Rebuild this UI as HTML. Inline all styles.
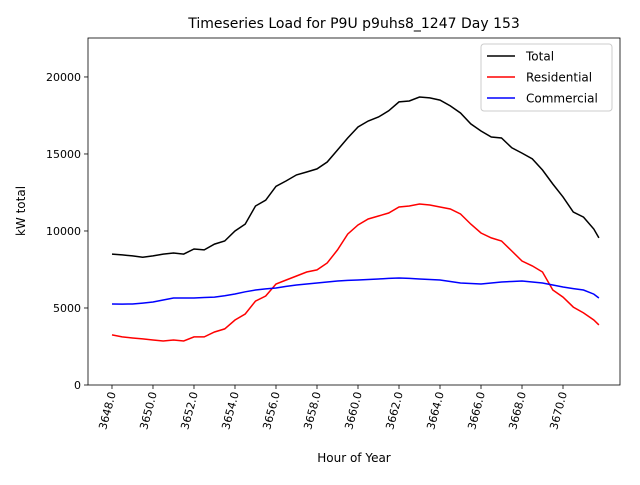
<!DOCTYPE html>
<html><head><meta charset="utf-8"><style>
body{margin:0;background:#fff;}
svg text{font-family:"DejaVu Sans","Liberation Sans",sans-serif;}
</style></head><body>
<svg id="chart" width="640" height="480" xmlns="http://www.w3.org/2000/svg"></svg>
<script>
const hours=[3648,3648.5,3649,3649.5,3650,3650.5,3651,3651.5,3652,3652.5,3653,3653.5,3654,3654.5,3655,3655.5,3656,3656.5,3657,3657.5,3658,3658.5,3659,3659.5,3660,3660.5,3661,3661.5,3662,3662.5,3663,3663.5,3664,3664.5,3665,3665.5,3666,3666.5,3667,3667.5,3668,3668.5,3669,3669.5,3670,3670.5,3671,3671.5,3671.75];
const totalLoad=[8500,8450,8380,8300,8380,8500,8570,8500,8830,8770,9150,9350,10000,10450,11620,12000,12900,13250,13640,13830,14030,14480,15260,16040,16750,17140,17400,17800,18380,18440,18700,18640,18500,18120,17660,16950,16490,16100,16040,15400,15060,14680,13960,13050,12210,11230,10900,10130,9550];
const residentialLoad=[3250,3120,3050,2990,2920,2860,2920,2860,3120,3120,3440,3640,4220,4610,5450,5780,6560,6820,7080,7340,7470,7920,8770,9800,10390,10780,10970,11170,11560,11620,11750,11690,11560,11430,11100,10450,9870,9550,9350,8700,8050,7730,7340,6170,5710,5060,4680,4220,3900];
const commercialLoad=[5260,5250,5260,5320,5390,5520,5650,5650,5650,5680,5710,5800,5910,6050,6170,6240,6300,6400,6490,6560,6620,6690,6750,6790,6820,6850,6880,6920,6950,6920,6880,6850,6820,6720,6620,6590,6560,6620,6690,6720,6750,6690,6620,6490,6360,6260,6170,5900,5650];
const xTicks=[3648,3650,3652,3654,3656,3658,3660,3662,3664,3666,3668,3670];
const yTicks=[0,5000,10000,15000,20000];
const L=88,R=620,T=38,B=385,XMIN=3646.83,XMAX=3672.78,YMAX=22530;
const sx=v=>L+(v-XMIN)/(XMAX-XMIN)*(R-L);
const sy=v=>B-v/YMAX*(B-T);
const svg=document.getElementById('chart');
function add(tag,attrs,text){const e=document.createElementNS('http://www.w3.org/2000/svg',tag);for(const k in attrs)e.setAttribute(k,attrs[k]);if(text!==undefined)e.textContent=text;svg.appendChild(e);return e;}
let t=add('text',{x:354,y:28,'text-anchor':'middle','font-size':14},'Timeseries Load for P9U p9uhs8_1247  Day 153');


xTicks.forEach(v=>{const x=sx(v);
 let l=add('line',{x1:x,x2:x,y1:B,y2:B+4,stroke:'#000','stroke-width':0.8});
 
 
 let tx=add('text',{x:0,y:0,'font-size':11,'text-anchor':'end',transform:`translate(${x+4},${B+8}) rotate(-75)`},v.toFixed(1));
 
 
});
yTicks.forEach(v=>{const y=sy(v);
 let l=add('line',{x1:L-4,x2:L,y1:y,y2:y,stroke:'#000','stroke-width':0.8});
 
 
 let tx=add('text',{x:L-7,y:y+4,'font-size':11,'text-anchor':'end'},String(v));
 
 
});
function series(vals,color,name){
 const d=vals.map((v,i)=>(i?'L':'M')+sx(hours[i]).toFixed(1)+','+sy(v).toFixed(1)).join(' ');
 let p=add('path',{d:d,fill:'none',stroke:color,'stroke-width':1.5});
 
 
}
series(totalLoad,'#000','total-line');
series(residentialLoad,'#ff0000','residential-line');
series(commercialLoad,'#0000ff','commercial-line');
let f=add('rect',{x:L,y:T,width:R-L,height:B-T,fill:'none',stroke:'#000','stroke-width':0.8});


let xt=add('text',{x:354,y:462,'text-anchor':'middle','font-size':12},'Hour of Year');


let yt=add('text',{x:0,y:0,'text-anchor':'middle','font-size':12,transform:'translate(25,211) rotate(-90)'},'kW total');


let lg=add('rect',{x:481,y:44,width:131,height:67,fill:'#fff',stroke:'#ccc',rx:3});


[['Total','#000'],['Residential','#ff0000'],['Commercial','#0000ff']].forEach((e,i)=>{
 const y=56+i*21;
 let l=add('line',{x1:487,x2:515,y1:y,y2:y,stroke:e[1],'stroke-width':1.5});
 
 
 let tx=add('text',{x:526,y:y+4.5,'font-size':12},e[0]);
 
 
});
</script>
</body></html>
